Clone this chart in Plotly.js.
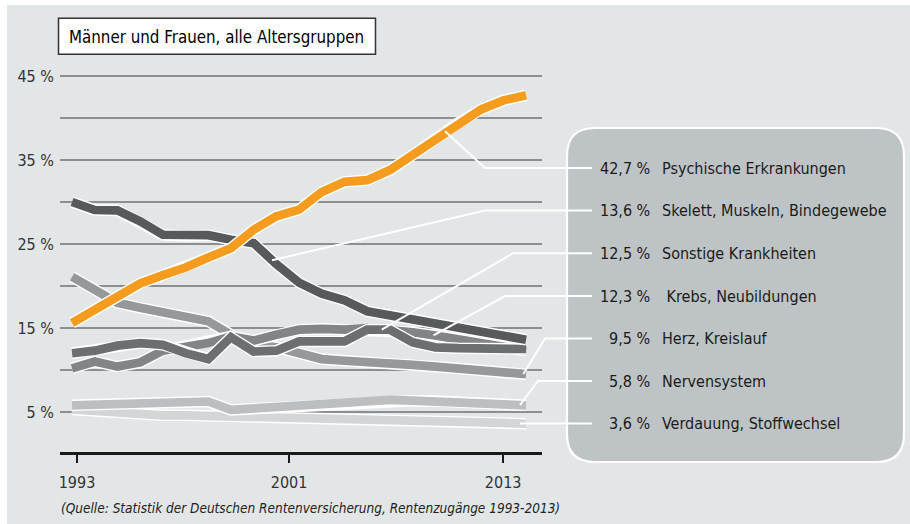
<!DOCTYPE html>
<html><head><meta charset="utf-8">
<script src="https://cdn.plot.ly/plotly-3.0.1.min.js"></script>
<style>
html,body{margin:0;padding:0;background:#ffffff;width:910px;height:524px;overflow:hidden}
#chart{position:absolute;left:7px;top:5px;width:903px;height:519px}
</style>
</head><body><div id="chart"></div>
<script>
// ---------- data ----------
const years = [1993,1994,1995,1996,1997,1998,1999,2000,2001,2002,2003,2004,2005,2006,2007,2008,2009,2010,2011,2012,2013];
const psychische = [15.6,17.1,18.7,20.3,21.3,22.2,23.4,24.5,26.7,28.3,29.1,31.2,32.4,32.6,33.8,35.6,37.7,39.4,41.0,42.1,42.7];
const skelett    = [30.0,29.05,29.0,27.7,26.1,25.95,26.05,25.5,25.1,22.6,20.4,19.1,18.3,17.0,16.5,16.1,15.5,14.9,14.4,13.9,13.6];
const sonstige   = [12.0,12.3,12.9,13.2,13.0,12.0,11.3,13.9,12.2,12.3,13.4,13.4,13.4,14.8,14.8,13.3,12.7,12.6,12.5,12.5,12.5];
const krebs      = [10.2,11.0,10.4,10.9,12.3,12.8,13.2,14.0,13.5,14.2,14.8,14.9,14.8,15.0,14.8,14.5,14.1,13.7,13.3,12.8,12.3];
const herz       = [21.1,19.5,18.0,17.4,16.9,16.5,15.8,14.2,13.0,12.7,12.0,11.3,11.1,11.0,10.8,10.6,10.4,10.2,9.8,9.7,9.5];
const nerven     = [5.8,5.9,6.05,6.1,6.25,6.4,6.25,5.25,5.4,5.6,5.8,6.0,6.15,6.35,6.45,6.35,6.3,6.2,6.05,5.9,5.8];
const verdauung  = [5.3,5.1,4.85,4.7,4.6,4.6,4.55,4.5,4.45,4.35,4.4,4.35,4.2,4.1,4.0,3.95,3.9,3.8,3.75,3.7,3.6];

const seriesNames  = ["Psychische Erkrankungen","Skelett, Muskeln, Bindegewebe","Sonstige Krankheiten","\u00a0Krebs, Neubildungen","Herz, Kreislauf","Nervensystem","Verdauung, Stoffwechsel"];
const seriesValues = [psychische, skelett, sonstige, krebs, herz, nerven, verdauung];
const seriesColors = ["#F59C1E","#58595B","#6D6E71","#838487","#96989B","#BCBEC0","#D3D5D6"];
const valueLabels  = ["42,7 %","13,6 %","12,5 %","12,3 %","9,5 %","5,8 %","3,6 %"];
const drawOrder    = [6,5,4,3,2,1,0];

const yTickVals  = [5,10,15,20,25,30,35,40,45];
const yTickText  = ["5 %","","15 %","","25 %","","35 %","","45 %"];
const xTickLabels = ["1993","2001","2013"];
const xTickPos    = [1993.22,2002.56,2011.99];

const titleText  = "Männer und Frauen, alle Altersgruppen";
const sourceText = "(Quelle: Statistik der Deutschen Rentenversicherung, Rentenzugänge 1993-2013)";

// ---------- layout helpers ----------
const X0 = 1992.47, X1 = 2013.70, Y0 = 0.238, Y1 = 46.905;
const PL = 60, PR = 542, PT = 60, PB = 452;
const pxX = px => (px - PL) / (PR - PL);
const pxY = py => (PB - py) / (PB - PT);
const dX = yr => (yr - X0) / (X1 - X0);
const dY = v => (v - Y0) / (Y1 - Y0);
function interp(arr, yr){
  const i = Math.min(Math.floor(yr - years[0]), years.length - 2);
  const t = yr - years[i];
  return arr[i] + (arr[i+1] - arr[i]) * t;
}
const FONT = "'DejaVu Sans Condensed', 'DejaVu Sans', sans-serif";

// ---------- traces ----------
const traces = [];
drawOrder.forEach(i => {
  traces.push({x: years, y: seriesValues[i], mode: "lines", hoverinfo: "skip",
    line: {color: "#ffffff", width: 11.5}});
  traces.push({x: years, y: seriesValues[i], mode: "lines", hoverinfo: "skip",
    line: {color: seriesColors[i], width: 8.7}});
});

// ---------- shapes / annotations ----------
const shapes = [];
const annotations = [];

// legend panel (rounded)
(function(){
  const L = 567, R = 904, T = 128, B = 462, r = 28;
  const p = (x, y) => pxX(x).toFixed(5) + "," + pxY(y).toFixed(5);
  const path = "M" + p(L + r, T) + " L" + p(R - r, T) + " Q" + p(R, T) + " " + p(R, T + r) +
    " L" + p(R, B - r) + " Q" + p(R, B) + " " + p(R - r, B) +
    " L" + p(L + r, B) + " Q" + p(L, B) + " " + p(L, B - r) +
    " L" + p(L, T + r) + " Q" + p(L, T) + " " + p(L + r, T) + " Z";
  shapes.push({type: "path", xref: "paper", yref: "paper", path: path, layer: "below",
    fillcolor: "#BEC4C6", line: {color: "#ffffff", width: 2.2}});
})();

// title box
shapes.push({type: "rect", xref: "paper", yref: "paper",
  x0: pxX(58.5), x1: pxX(375.5), y0: pxY(54.3), y1: pxY(18.3),
  fillcolor: "#ffffff", line: {color: "#333333", width: 1.5}, layer: "above"});
annotations.push({xref: "paper", yref: "paper", x: pxX(216.5), y: pxY(37), xanchor: "center", yanchor: "middle",
  text: titleText, showarrow: false, font: {family: FONT, size: 16.8, color: "#000000"}});

// source
annotations.push({xref: "paper", yref: "paper", x: pxX(59), y: pxY(508), xanchor: "left", yanchor: "middle",
  text: "<i>" + sourceText + "</i>", showarrow: false, font: {family: FONT, size: 13.5, color: "#222222"}});

// leaders and labels
const rowY = [168, 210.5, 253.3, 296, 338.5, 381, 423.3];
const elbowX = [485, 485, 513, 505, 545, 538, null];
const leaderYear = [2009.43, 2001.81, 2006.64, 2008.92, 2012.88, 2012.73, 2012.73];
const leaderEnd = 592;
for (let i = 0; i < 7; i++){
  const sx = dX(leaderYear[i]), sy = dY(interp(seriesValues[i], leaderYear[i]));
  let path = "M" + sx.toFixed(5) + "," + sy.toFixed(5);
  if (elbowX[i] !== null) path += " L" + pxX(elbowX[i]).toFixed(5) + "," + pxY(rowY[i]).toFixed(5);
  path += " L" + pxX(leaderEnd).toFixed(5) + "," + (elbowX[i] !== null ? pxY(rowY[i]) : sy).toFixed(5);
  shapes.push({type: "path", xref: "paper", yref: "paper", path: path, layer: "above",
    line: {color: "#ffffff", width: 2}});
  annotations.push({xref: "paper", yref: "paper", x: pxX(652), y: pxY(rowY[i]), xanchor: "right", yanchor: "middle",
    text: valueLabels[i], showarrow: false, font: {family: FONT, size: 16, color: "#1a1a1a"}});
  annotations.push({xref: "paper", yref: "paper", x: pxX(660), y: pxY(rowY[i]), xanchor: "left", yanchor: "middle",
    text: seriesNames[i], showarrow: false, font: {family: FONT, size: 16, color: "#1a1a1a"}});
}

const layout = {
  width: 903, height: 519,
  margin: {l: PL - 7, r: 910 - PR, t: PT - 5, b: 524 - PB, pad: 0},
  paper_bgcolor: "#E3E6E7", plot_bgcolor: "rgba(0,0,0,0)",
  showlegend: false,
  xaxis: {range: [X0, X1], showgrid: false, zeroline: false, showline: true,
    linecolor: "#1a1a1a", linewidth: 2.5, ticks: "outside", ticklen: 8, tickwidth: 2.5, tickcolor: "#1a1a1a",
    tickvals: xTickPos, ticktext: xTickLabels, tickfont: {family: FONT, size: 16, color: "#333333"},
    ticklabelstandoff: 6, fixedrange: true},
  yaxis: {range: [Y0, Y1], showgrid: true, gridcolor: "#8C8E90", gridwidth: 1.3, zeroline: false,
    showline: false, ticks: "", tickvals: yTickVals, ticktext: yTickText,
    tickfont: {family: FONT, size: 16, color: "#333333"}, ticklabelstandoff: 5, fixedrange: true},
  shapes: shapes,
  annotations: annotations
};

Plotly.newPlot("chart", traces, layout, {staticPlot: true, displayModeBar: false});
</script>
</body></html>
